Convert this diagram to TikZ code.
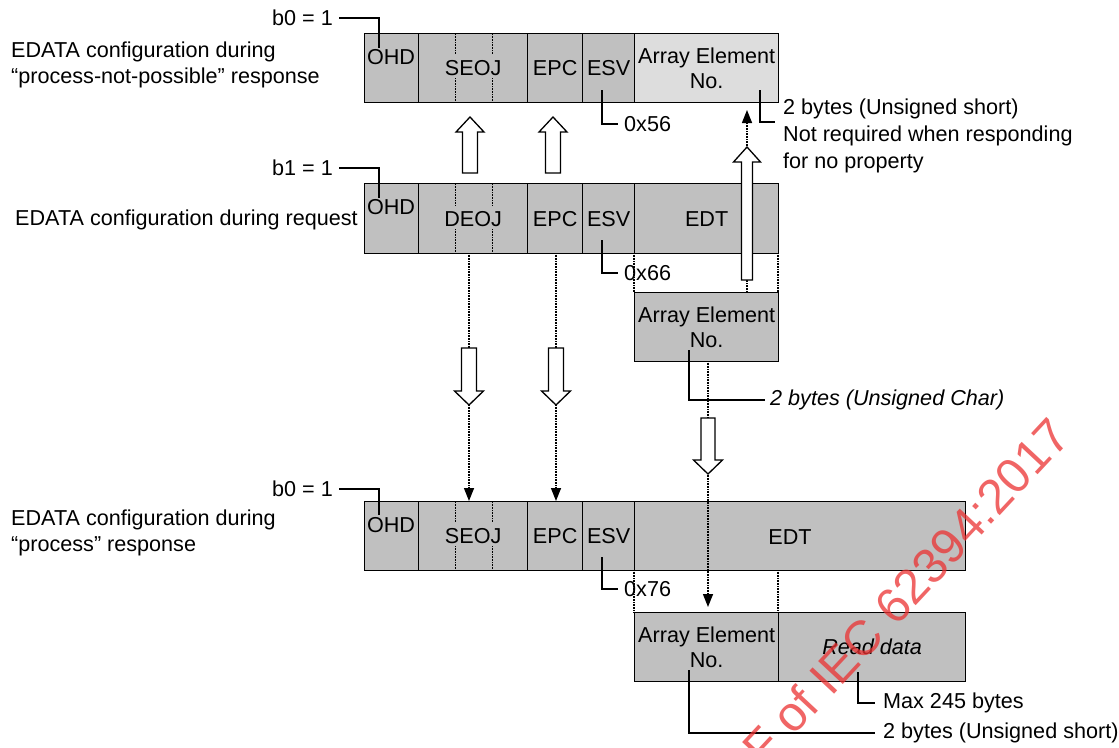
\documentclass[tikz,border=0pt]{standalone}
\usepackage{fontspec}
\setmainfont{Liberation Sans}
\usetikzlibrary{arrows.meta}
\definecolor{cellgray}{RGB}{192,192,192}
\definecolor{lightcell}{RGB}{221,221,221}
\definecolor{wmred}{RGB}{235,50,50}
\newcommand\blockarrow[6]{%
  \draw[hollow] ({#1-#5},#2) -- ({#1+#5},#2) -- ({#1+#5},#3) -- ({#1+#6},#3) -- (#1,#4) -- ({#1-#6},#3) -- ({#1-#5},#3) -- cycle;}
\begin{document}
\begin{tikzpicture}[x=1pt,y=-1pt,
  txt/.style={font=\fontsize{21.6}{26}\selectfont, inner sep=0pt},
  cell/.style={draw, line width=1.3pt, fill=cellgray, inner sep=0pt, anchor=north west,
    font=\fontsize{21.6}{25}\selectfont, align=center},
  lead/.style={line width=1.3pt},
  dots/.style={line width=1.4pt, dash pattern=on 1pt off 0.6pt},
  dotarr/.style={dots, -{Triangle[length=13pt,width=10pt]}},
  sepdot/.style={line width=1pt, dash pattern=on 1pt off 0.6pt},
  hollow/.style={draw, fill=white, line width=1.3pt, line join=miter}]
\useasboundingbox (0,0) rectangle (1119,747);

% ---------- top row ----------
\node[cell, minimum width=54, minimum height=69] (tOHD) at (364,33) {};
\node[cell, minimum width=109, minimum height=69] (tSEOJ) at (418,33) {SEOJ};
\node[cell, minimum width=55, minimum height=69] (tEPC) at (527,33) {EPC};
\node[cell, minimum width=52, minimum height=69] (tESV) at (582,33) {ESV};
\node[cell, fill=lightcell, minimum width=144, minimum height=69] (tAEN) at (634,33) {Array Element\\No.};
\node[txt] (tOHDl) at (391,57) {OHD};
\draw[sepdot] (455,34) -- (455,54) (455,78) -- (455,101) (492,34) -- (492,54) (492,78) -- (492,101);

% ---------- middle row ----------
\node[cell, minimum width=54, minimum height=70] (mOHD) at (364,183) {};
\node[cell, minimum width=109, minimum height=70] (mDEOJ) at (418,183) {DEOJ};
\node[cell, minimum width=55, minimum height=70] (mEPC) at (527,183) {EPC};
\node[cell, minimum width=52, minimum height=70] (mESV) at (582,183) {ESV};
\node[cell, minimum width=144, minimum height=70] (mEDT) at (634,183) {EDT};
\node[txt] (mOHDl) at (391,207) {OHD};
\draw[sepdot] (455,184) -- (455,205) (455,229) -- (455,252) (492,184) -- (492,205) (492,229) -- (492,252);
\node[cell, minimum width=144, minimum height=69] (mAEN) at (634,292) {Array Element\\No.};

% ---------- bottom row ----------
\node[cell, minimum width=54, minimum height=69] (bOHD) at (364,501) {};
\node[cell, minimum width=109, minimum height=69] (bSEOJ) at (418,501) {SEOJ};
\node[cell, minimum width=55, minimum height=69] (bEPC) at (527,501) {EPC};
\node[cell, minimum width=52, minimum height=69] (bESV) at (582,501) {ESV};
\node[cell, minimum width=331, minimum height=69] (bEDT) at (634,501) {};
\node[txt] (bOHDl) at (391,525) {OHD};
\node[txt] (bEDTl) at (790,537) {EDT};
\draw[sepdot] (455,502) -- (455,522) (455,546) -- (455,569) (492,502) -- (492,522) (492,546) -- (492,569);
\node[cell, minimum width=144, minimum height=69] (bAEN) at (634,612) {Array Element\\No.};
\node[cell, minimum width=187, minimum height=69] (bRD) at (778,612) {\itshape Read data};

% ---------- dotted projection lines ----------
\coordinate (p1a) at (634,253); \coordinate (p1b) at (634,292);
\coordinate (p2a) at (778,253); \coordinate (p2b) at (778,292);
\coordinate (p3a) at (634,570); \coordinate (p3b) at (634,612);
\coordinate (p4a) at (778,570); \coordinate (p4b) at (778,612);
\draw[dots] (p1a) -- (p1b) (p2a) -- (p2b) (p3a) -- (p3b) (p4a) -- (p4b);

\coordinate (d1a) at (469,253); \coordinate (d1b) at (469,501);
\coordinate (d2a) at (556,253); \coordinate (d2b) at (556,501);
\coordinate (d3a) at (708,361); \coordinate (d3b) at (708,612);
\coordinate (d4a) at (747,292); \coordinate (d4b) at (747,102);
\draw[dotarr] (d1a) -- (d1b);
\draw[dotarr] (d2a) -- (d2b);
\draw[dotarr, shorten >=5pt] (d3a) -- (d3b);
\draw[dotarr, shorten >=8pt] (d4a) -- (d4b);

% ---------- hollow block arrows ----------
\blockarrow{470}{173}{132}{117}{7.5}{14}
\blockarrow{553}{173}{132}{117}{7.5}{14}
\blockarrow{747}{280}{162}{147}{5.5}{13.5}
\blockarrow{469}{348}{391}{405}{7.5}{14.5}
\blockarrow{556}{348}{391}{405}{7.5}{14.5}
\blockarrow{708}{418}{460}{474}{7}{14.5}

% ---------- left labels ----------
\node[txt, anchor=west, align=left] (lab1) at (11,65) {EDATA configuration during\\“process-not-possible” response};
\node[txt, anchor=west] (lab2) at (15,220) {EDATA configuration during request};
\node[txt, anchor=west, align=left] (lab3) at (11,533) {EDATA configuration during\\“process” response};

% ---------- bit leaders ----------
\node[txt, anchor=east] (b0t) at (333,18) {b0 = 1};
\coordinate (b0k) at (379,48);
\draw[lead] ([xshift=6pt]b0t.east) -| (b0k);
\node[txt, anchor=east] (b1m) at (333,168) {b1 = 1};
\coordinate (b1k) at (379,198);
\draw[lead] ([xshift=6pt]b1m.east) -| (b1k);
\node[txt, anchor=east] (b0b) at (333,489) {b0 = 1};
\coordinate (b0bk) at (379,515);
\draw[lead] ([xshift=6pt]b0b.east) -| (b0bk);

% ---------- ESV leaders ----------
\coordinate (s1) at (602,90);
\node[txt, anchor=west] (x56) at (624,124) {0x56};
\draw[lead] (s1) |- ([xshift=-6pt]x56.west);
\coordinate (s2) at (602,240);
\node[txt, anchor=west] (x66) at (624,273) {0x66};
\draw[lead] (s2) |- ([xshift=-6pt]x66.west);
\coordinate (s3) at (602,557);
\node[txt, anchor=west] (x76) at (624,589) {0x76};
\draw[lead] (s3) |- ([xshift=-6pt]x76.west);

% ---------- size notes ----------
\coordinate (n1a) at (760,90); \coordinate (n1b) at (775,122);
\draw[lead] (n1a) |- (n1b);
\node[txt, anchor=north west, align=left, font=\fontsize{21.6}{27}\selectfont] (note1) at (783,99)
  {2 bytes (Unsigned short)\\Not required when responding\\for no property};

\coordinate (n2a) at (689,350);
\node[txt, anchor=west, font=\fontsize{21.6}{26}\selectfont\itshape] (note2) at (770,400) {2 bytes (Unsigned Char)};
\draw[lead] (n2a) |- ([xshift=-5pt]note2.west);

\coordinate (n3a) at (858,672);
\node[txt, anchor=west] (note3) at (883,703) {Max 245 bytes};
\draw[lead] (n3a) |- ([xshift=-8pt]note3.west);
\coordinate (n4a) at (689,670);
\node[txt, anchor=west] (note4) at (883,733) {2 bytes (Unsigned short)};
\draw[lead] (n4a) |- ([xshift=-8pt]note4.west);

% ---------- watermark ----------
\begin{scope}
\clip (0,0) rectangle (1119,747);
\node[rotate=47, text=wmred, opacity=0.75, font=\fontsize{49}{49}\selectfont, inner sep=0pt, anchor=east] (wm) at (1060,426) {PDF of IEC 62394:2017};
\end{scope}
\end{tikzpicture}
\end{document}
